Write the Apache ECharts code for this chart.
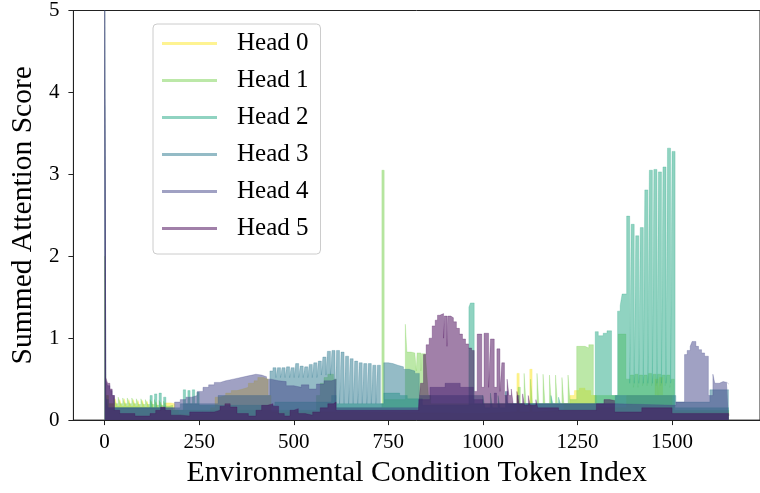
<!DOCTYPE html>
<html>
<head>
<meta charset="utf-8">
<script src="https://cdn.jsdelivr.net/npm/echarts@6/dist/echarts.min.js"></script>
<style>html,body{margin:0;padding:0;background:#fff}#chart{width:760px;height:493px}</style>
</head>
<body>
<div id="chart"></div>
<script>
// ---- data: [token index, summed attention score]; each value holds until the next token listed ----
const headNames = ['Head 0', 'Head 1', 'Head 2', 'Head 3', 'Head 4', 'Head 5'];
const xTickValues = [0, 250, 500, 750, 1000, 1250, 1500];
const xLabel = 'Environmental Condition Token Index';
const yLabel = 'Summed Attention Score';

const head0 = [[0,2.0],[3,0.3],[10,0.2],[28,0.26],[33,0.17],[40,0.25],[45,0.17],[52,0.26],[57,0.17],[64,0.25],[69,0.17],[76,0.25],[81,0.17],[88,0.24],[93,0.16],[100,0.24],[105,0.16],[112,0.23],[117,0.16],[124,0.23],[129,0.15],[136,0.22],[141,0.15],[148,0.22],[153,0.16],[160,0.21],[175,0.2],[185,0.12],[195,0.07],[280,0.15],[292,0.28],[305,0.3],[320,0.33],[335,0.36],[350,0.38],[365,0.4],[380,0.45],[395,0.48],[405,0.52],[420,0.5],[432,0.3],[440,0.1],[600,0.08],[1000,0.1],[1090,0.57],[1096,0.1],[1124,0.62],[1130,0.1],[1140,0.12],[1215,0.2],[1230,0.3],[1242,0.36],[1255,0.39],[1270,0.36],[1285,0.3],[1300,0.15],[1380,0.3],[1455,0.5],[1463,0.3],[1467,0.52],[1475,0.3],[1500,0.1],[1650,0.05]];

const head1 = [[0,2.0],[3,0.3],[10,0.2],[24,0.28],[29,0.2],[36,0.28],[41,0.2],[48,0.27],[53,0.2],[60,0.27],[65,0.2],[72,0.27],[77,0.2],[84,0.26],[89,0.19],[96,0.26],[101,0.19],[108,0.25],[113,0.19],[120,0.25],[125,0.19],[132,0.25],[137,0.18],[144,0.24],[149,0.18],[156,0.23],[161,0.17],[170,0.18],[180,0.12],[560,0.3],[570,0.45],[580,0.52],[590,0.56],[605,0.5],[612,0.15],[733,3.05],[739,0.25],[795,1.17],[799,0.83],[810,0.82],[820,0.8],[824,0.6],[826,0.82],[836,0.6],[838,0.81],[848,0.8],[852,0.55],[856,0.3],[862,0.2],[1093,0.4],[1099,0.2],[1109,0.57],[1114,0.2],[1126,0.5],[1131,0.2],[1143,0.57],[1148,0.2],[1159,0.56],[1164,0.2],[1176,0.55],[1181,0.2],[1192,0.55],[1197,0.2],[1209,0.52],[1214,0.2],[1225,0.55],[1230,0.25],[1248,0.9],[1260,0.9],[1270,0.88],[1280,0.92],[1292,0.3],[1358,1.05],[1378,0.5],[1390,0.55],[1398,0.4],[1402,0.56],[1410,0.4],[1414,0.55],[1422,0.42],[1426,0.55],[1434,0.42],[1438,0.57],[1446,0.42],[1450,0.56],[1458,0.42],[1462,0.56],[1470,0.42],[1474,0.55],[1482,0.42],[1486,0.55],[1494,0.4],[1498,0.5],[1506,0.12],[1650,0.1]];

const head2 = [[0,6.0],[3,0.25],[10,0.15],[120,0.3],[126,0.15],[132,0.32],[138,0.15],[144,0.33],[150,0.15],[156,0.28],[162,0.12],[208,0.37],[214,0.2],[220,0.36],[226,0.2],[232,0.37],[238,0.2],[244,0.34],[250,0.18],[450,0.22],[600,0.3],[612,0.2],[738,0.33],[780,0.3],[800,0.26],[840,0.18],[963,1.38],[967,1.43],[977,0.2],[1000,0.3],[1005,0.15],[1020,0.33],[1025,0.15],[1040,0.3],[1045,0.15],[1060,0.35],[1065,0.2],[1180,0.3],[1185,0.2],[1200,0.28],[1205,0.2],[1297,1.08],[1305,1.03],[1318,1.06],[1328,1.09],[1340,0.3],[1356,1.33],[1363,1.4],[1368,1.54],[1380,2.49],[1388,0.45],[1392,2.39],[1400,0.45],[1404,2.25],[1412,0.45],[1416,2.35],[1424,0.45],[1428,2.81],[1436,0.45],[1440,3.05],[1448,0.45],[1452,3.06],[1460,0.45],[1464,3.03],[1472,0.45],[1476,3.09],[1484,0.45],[1488,3.32],[1496,0.45],[1500,3.28],[1508,0.15],[1650,0.15]];

const head3 = [[0,6.0],[3,0.3],[8,0.15],[200,0.2],[300,0.3],[437,0.6],[445,0.64],[453,0.52],[457,0.64],[465,0.52],[469,0.64],[477,0.52],[481,0.65],[489,0.52],[493,0.64],[501,0.52],[505,0.69],[513,0.52],[517,0.66],[525,0.52],[529,0.65],[537,0.52],[541,0.68],[549,0.52],[553,0.7],[561,0.52],[565,0.72],[573,0.55],[577,0.77],[585,0.55],[589,0.84],[597,0.55],[601,0.85],[609,0.2],[613,0.85],[621,0.2],[625,0.83],[633,0.2],[637,0.78],[645,0.2],[649,0.75],[657,0.2],[661,0.72],[669,0.2],[673,0.7],[681,0.2],[685,0.69],[693,0.2],[697,0.69],[705,0.2],[709,0.67],[717,0.2],[721,0.67],[729,0.2],[738,0.7],[750,0.69],[762,0.67],[775,0.65],[790,0.62],[805,0.6],[820,0.57],[832,0.3],[1000,0.2],[1350,0.3],[1510,0.22],[1600,0.37],[1650,0.37]];

const head4 = [[0,6.0],[3,0.48],[8,0.42],[14,0.36],[20,0.3],[26,0.15],[185,0.22],[200,0.25],[215,0.28],[230,0.3],[245,0.35],[260,0.4],[275,0.43],[290,0.46],[305,0.48],[320,0.5],[340,0.52],[360,0.54],[380,0.56],[400,0.55],[415,0.53],[428,0.5],[440,0.48],[460,0.47],[480,0.42],[500,0.4],[520,0.43],[540,0.38],[560,0.44],[580,0.48],[600,0.5],[612,0.15],[830,0.25],[860,0.4],[900,0.45],[940,0.4],[975,0.25],[1000,0.2],[1030,0.33],[1036,0.2],[1060,0.35],[1066,0.2],[1090,0.3],[1096,0.2],[1350,0.18],[1510,0.22],[1533,0.8],[1540,0.85],[1548,0.9],[1553,0.96],[1563,0.9],[1570,0.86],[1578,0.82],[1586,0.78],[1596,0.3],[1608,0.56],[1613,0.45],[1625,0.47],[1635,0.46],[1645,0.44],[1650,0.44]];

const head5 = [[0,6.0],[3,0.52],[8,0.45],[14,0.38],[20,0.3],[26,0.12],[40,0.08],[80,0.05],[120,0.08],[135,0.12],[148,0.16],[160,0.12],[175,0.06],[200,0.05],[225,0.1],[260,0.1],[290,0.12],[305,0.17],[318,0.2],[332,0.16],[350,0.08],[380,0.05],[400,0.12],[415,0.18],[430,0.2],[445,0.17],[460,0.08],[475,0.05],[490,0.12],[500,0.14],[512,0.08],[530,0.06],[550,0.1],[570,0.15],[590,0.2],[605,0.22],[612,0.12],[830,0.15],[835,0.45],[843,0.8],[850,0.92],[858,1.0],[866,1.15],[874,1.22],[880,1.28],[886,1.3],[896,1.0],[898,1.27],[905,0.9],[907,1.27],[915,1.25],[922,1.2],[930,1.12],[938,1.05],[946,0.99],[954,0.93],[962,0.88],[970,0.85],[977,0.35],[985,1.05],[997,0.4],[1003,1.06],[1015,0.4],[1020,0.99],[1030,0.4],[1037,0.87],[1045,0.35],[1050,0.7],[1057,0.3],[1064,0.5],[1069,0.3],[1075,0.38],[1080,0.2],[1090,0.35],[1095,0.2],[1105,0.32],[1110,0.18],[1120,0.3],[1125,0.18],[1140,0.25],[1145,0.15],[1200,0.12],[1300,0.2],[1320,0.25],[1335,0.24],[1348,0.1],[1420,0.15],[1500,0.08],[1650,0.05]];

const headData = [head0, head1, head2, head3, head4, head5];
const headColors = ['#fde725', '#7ad151', '#22a884', '#2a788e', '#414487', '#440154'];

// step-after path: each value is held until the next listed token
function stepAfter(pts) {
  const out = [];
  for (let i = 0; i < pts.length; i++) {
    out.push([pts[i][0], pts[i][1]]);
    if (i + 1 < pts.length) out.push([pts[i + 1][0], pts[i][1]]);
  }
  return out;
}
function rgba(hex, a) {
  const n = parseInt(hex.slice(1), 16);
  return 'rgba(' + ((n >> 16) & 255) + ',' + ((n >> 8) & 255) + ',' + (n & 255) + ',' + a + ')';
}

const FONT = 'Liberation Serif';
const chart = echarts.init(document.getElementById('chart'), null, {renderer: 'canvas'});
chart.setOption({
  animation: false,
  backgroundColor: '#ffffff',
  grid: {left: 69, top: 10, width: 701, height: 413, show: true, borderColor: '#222', borderWidth: 1, containLabel: false},
  legend: {
    orient: 'vertical', left: 153, top: 24,
    padding: [6, 12, 12, 9], itemGap: 10, itemWidth: 55, itemHeight: 3,
    icon: 'rect',
    backgroundColor: 'rgba(255,255,255,0.8)', borderColor: '#cccccc', borderWidth: 1, borderRadius: 4,
    textStyle: {fontFamily: FONT, fontSize: 25, color: '#000', lineHeight: 27, padding: [0, 0, 0, 15]},
    data: headNames.map((n, i) => ({name: n, icon: 'rect', itemStyle: {color: rgba(headColors[i], 0.5)}}))
  },
  xAxis: {
    type: 'value', min: -82.5, max: 1732.5,
    axisLine: {onZero: false, lineStyle: {color: '#222', width: 1}},
    axisTick: {show: true, length: 5, inside: false, customValues: xTickValues, lineStyle: {color: '#222'}},
    axisLabel: {customValues: xTickValues, formatter: v => String(v), fontFamily: FONT, fontSize: 21, color: '#000', margin: 12},
    splitLine: {show: false},
    name: xLabel, nameLocation: 'middle', nameGap: 36,
    nameTextStyle: {fontFamily: FONT, fontSize: 29.8, color: '#000'}
  },
  yAxis: {
    type: 'value', min: 0, max: 5, interval: 1,
    axisLine: {show: true, onZero: false, lineStyle: {color: '#222', width: 1}},
    axisTick: {show: true, length: 5, inside: false, lineStyle: {color: '#222'}},
    axisLabel: {fontFamily: FONT, fontSize: 21, color: '#000', margin: 14},
    splitLine: {show: false},
    name: yLabel, nameLocation: 'middle', nameGap: 31,
    nameTextStyle: {fontFamily: FONT, fontSize: 29.5, color: '#000'}
  },
  series: headNames.map((n, i) => ({
    name: n, type: 'line', data: stepAfter(headData[i]),
    symbol: 'none', showSymbol: false, color: headColors[i], sampling: null,
    lineStyle: {width: 0.5, color: headColors[i], opacity: 0.5},
    areaStyle: {color: headColors[i], opacity: 0.5},
    clip: true, silent: true, z: 2 + i
  }))
});
</script>
</body>
</html>
